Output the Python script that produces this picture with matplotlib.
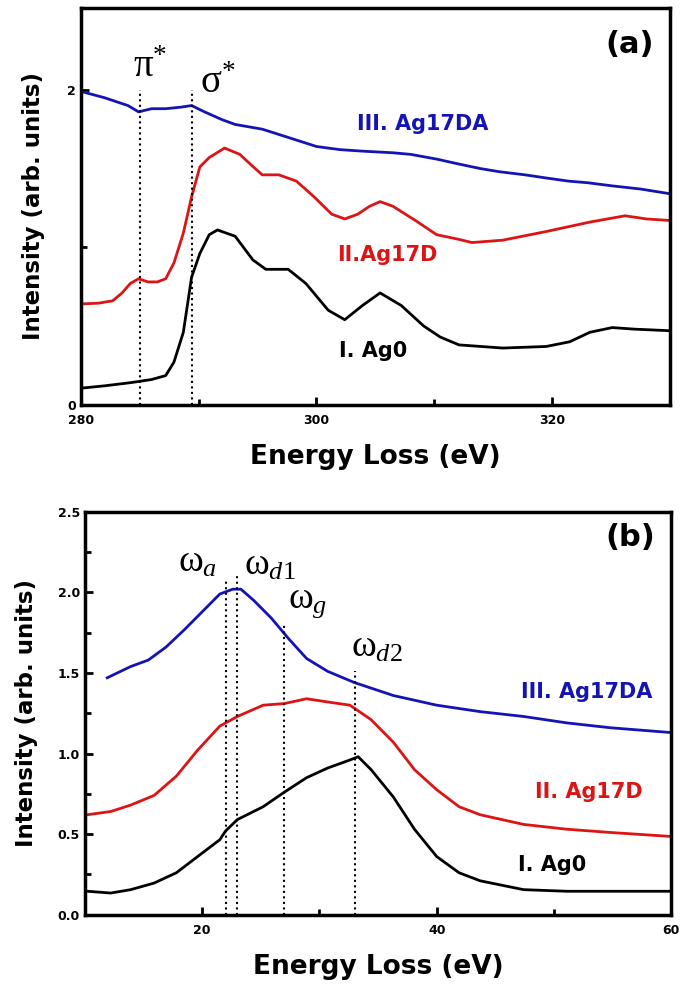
import matplotlib.pyplot as plt
from matplotlib.ticker import MultipleLocator

plt.rcParams['font.family'] = ['DejaVu Sans']
plt.rcParams['mathtext.fontset'] = 'custom'
plt.rcParams['mathtext.rm'] = 'Liberation Serif'
plt.rcParams['mathtext.it'] = 'Liberation Serif:italic'

BLUE = '#1414b4'
RED = '#dc1414'

# panel (a): carbon K edge
a_x_blue = [280, 282, 284, 284.9, 286, 287.2, 288.5, 289.4, 290.5, 292, 293.1, 295.4, 297.5, 300, 302, 304, 306.5, 308, 310.2, 312, 313.9, 315.5, 317.7, 319.5, 321.4, 323, 325.1, 327.5, 330]
a_y_blue = [1.99, 1.95, 1.90, 1.86, 1.88, 1.88, 1.89, 1.90, 1.86, 1.81, 1.78, 1.75, 1.70, 1.64, 1.62, 1.61, 1.60, 1.59, 1.56, 1.53, 1.50, 1.48, 1.46, 1.44, 1.42, 1.41, 1.39, 1.37, 1.34]

a_x_red = [280, 281.5, 282.7, 283.5, 284.2, 284.9, 285.7, 286.5, 287.2, 287.9, 288.7, 289.4, 290.1, 290.9, 292.2, 293.5, 294.5, 295.4, 296.8, 298.3, 299.8, 301.3, 302.4, 303.5, 304.5, 305.4, 306.5, 308.4, 310.2, 312.1, 313.2, 315.8, 319.5, 323.2, 326.2, 328, 330]
a_y_red = [0.64, 0.645, 0.66, 0.71, 0.77, 0.80, 0.78, 0.78, 0.80, 0.90, 1.09, 1.32, 1.51, 1.57, 1.63, 1.59, 1.52, 1.46, 1.46, 1.42, 1.32, 1.21, 1.18, 1.21, 1.26, 1.29, 1.26, 1.17, 1.08, 1.05, 1.03, 1.045, 1.10, 1.16, 1.20, 1.18, 1.17]

a_x_black = [280, 282, 284.2, 286, 287.2, 287.9, 288.7, 289.4, 290.1, 290.9, 291.6, 293.1, 294.6, 295.7, 297.6, 299.1, 301, 302.4, 303.9, 305.4, 307.2, 309.1, 310.5, 312.1, 315.8, 319.5, 321.5, 323.2, 325.1, 327, 330]
a_y_black = [0.105, 0.12, 0.14, 0.16, 0.185, 0.27, 0.46, 0.81, 0.96, 1.08, 1.11, 1.07, 0.92, 0.86, 0.86, 0.77, 0.60, 0.54, 0.63, 0.71, 0.63, 0.50, 0.43, 0.38, 0.36, 0.37, 0.40, 0.46, 0.49, 0.48, 0.47]

a_edges = [285, 289.4]
a_edge_names = [r'$\mathrm{π}^{*}$', r'$\mathrm{σ}^{*}$']

# panel (b): low loss region
b_x_blue = [11.9, 13.9, 15.4, 16.9, 18.5, 20, 21.5, 22.6, 23.3, 24.4, 25.9, 27.4, 28.9, 30.7, 33, 36.3, 40, 43.7, 47.4, 51.1, 54.8, 60]
b_y_blue = [1.47, 1.54, 1.58, 1.66, 1.77, 1.88, 1.99, 2.02, 2.02, 1.95, 1.84, 1.71, 1.59, 1.51, 1.44, 1.36, 1.30, 1.26, 1.23, 1.19, 1.16, 1.13]

b_x_red = [10.2, 12.2, 13.9, 15.9, 17.8, 19.6, 21.5, 23, 25.2, 27, 28.9, 30.7, 32.6, 34.4, 36.3, 38.1, 40, 41.9, 43.7, 47.4, 51.1, 54.8, 60]
b_y_red = [0.62, 0.64, 0.68, 0.74, 0.86, 1.02, 1.17, 1.23, 1.30, 1.31, 1.34, 1.32, 1.30, 1.21, 1.07, 0.90, 0.775, 0.67, 0.62, 0.56, 0.53, 0.51, 0.485]

b_x_black = [10.2, 12.2, 13.9, 15.9, 17.8, 19.6, 21.5, 22, 23, 25.2, 27, 28.9, 30.7, 32.6, 33.3, 34.4, 36.3, 38.1, 40, 41.9, 43.7, 47.4, 51.1, 60]
b_y_black = [0.145, 0.134, 0.155, 0.196, 0.26, 0.36, 0.465, 0.52, 0.59, 0.67, 0.76, 0.85, 0.91, 0.96, 0.98, 0.90, 0.73, 0.53, 0.36, 0.26, 0.21, 0.155, 0.145, 0.145]

b_modes = [22, 23, 27, 33]
b_mode_tops = [2.08, 2.10, 1.80, 1.51]
b_mode_names = [r'$\mathrm{ω}_{\mathit{a}}$', r'$\mathrm{ω}_{\mathit{d1}}$', r'$\mathrm{ω}_{\mathit{g}}$', r'$\mathrm{ω}_{\mathit{d2}}$']
b_name_pos = [(17.9, 2.08), (23.6, 2.06), (27.3, 1.83), (32.7, 1.55)]


def style_axes(ax, ypad):
    for s in ax.spines.values():
        s.set_linewidth(2.5)
    ax.tick_params(which='both', direction='in', top=False, right=False, width=2)
    ax.tick_params(which='major', length=6, labelsize=9)
    ax.tick_params(which='minor', length=4)
    ax.tick_params(axis='x', pad=7)
    for lab in ax.get_xticklabels() + ax.get_yticklabels():
        lab.set_fontweight('bold')
    ax.set_xlabel('Energy Loss (eV)', fontsize=19, fontweight='bold', labelpad=12)
    ax.set_ylabel('Intensity (arb. units)', fontsize=16.5, fontweight='bold', labelpad=ypad)


fig = plt.figure(figsize=(6.85, 9.92), dpi=100)

# top panel
ax1 = fig.add_axes([0.118, 0.592, 0.860, 0.400])
ax1.plot(a_x_blue, a_y_blue, color=BLUE, lw=2)
ax1.plot(a_x_red, a_y_red, color=RED, lw=2)
ax1.plot(a_x_black, a_y_black, color='black', lw=2)
for e in a_edges:
    ax1.plot([e, e], [0, 2.0], color='black', ls=':', lw=1.5)
ax1.text(285.9, 2.08, a_edge_names[0], fontsize=28, ha='center')
ax1.text(291.6, 1.98, a_edge_names[1], fontsize=28, ha='center')
ax1.text(309, 1.78, 'III. Ag17DA', color=BLUE, fontsize=15, fontweight='bold', ha='center', va='center')
ax1.text(306, 0.95, 'II.Ag17D', color=RED, fontsize=15, fontweight='bold', ha='center', va='center')
ax1.text(304.8, 0.34, 'I. Ag0', color='black', fontsize=15, fontweight='bold', ha='center', va='center')
ax1.text(326.6, 2.29, '(a)', fontsize=22, fontweight='bold', ha='center', va='center')
ax1.set_xlim(280, 330)
ax1.set_ylim(0, 2.52)
ax1.xaxis.set_major_locator(MultipleLocator(20))
ax1.xaxis.set_minor_locator(MultipleLocator(10))
ax1.yaxis.set_major_locator(MultipleLocator(2))
ax1.yaxis.set_minor_locator(MultipleLocator(1))
style_axes(ax1, 16)

# bottom panel
ax2 = fig.add_axes([0.124, 0.078, 0.856, 0.406])
ax2.plot(b_x_blue, b_y_blue, color=BLUE, lw=2)
ax2.plot(b_x_red, b_y_red, color=RED, lw=2)
ax2.plot(b_x_black, b_y_black, color='black', lw=2)
for m, t in zip(b_modes, b_mode_tops):
    ax2.plot([m, m], [0, t], color='black', ls=':', lw=1.5)
for name, (px, py) in zip(b_mode_names, b_name_pos):
    ax2.text(px, py, name, fontsize=27, ha='left', va='bottom')
ax2.text(52.8, 1.38, 'III. Ag17DA', color=BLUE, fontsize=15, fontweight='bold', ha='center', va='center')
ax2.text(53, 0.76, 'II. Ag17D', color=RED, fontsize=15, fontweight='bold', ha='center', va='center')
ax2.text(49.8, 0.31, 'I. Ag0', color='black', fontsize=15, fontweight='bold', ha='center', va='center')
ax2.text(56.5, 2.34, '(b)', fontsize=22, fontweight='bold', ha='center', va='center')
ax2.set_xlim(10, 60)
ax2.set_ylim(0, 2.5)
ax2.xaxis.set_major_locator(MultipleLocator(20))
ax2.xaxis.set_minor_locator(MultipleLocator(10))
ax2.yaxis.set_major_locator(MultipleLocator(0.5))
ax2.yaxis.set_minor_locator(MultipleLocator(0.25))
ax2.yaxis.set_major_formatter(plt.FormatStrFormatter('%.1f'))
style_axes(ax2, 14)

fig.savefig('out.png', dpi=100)
